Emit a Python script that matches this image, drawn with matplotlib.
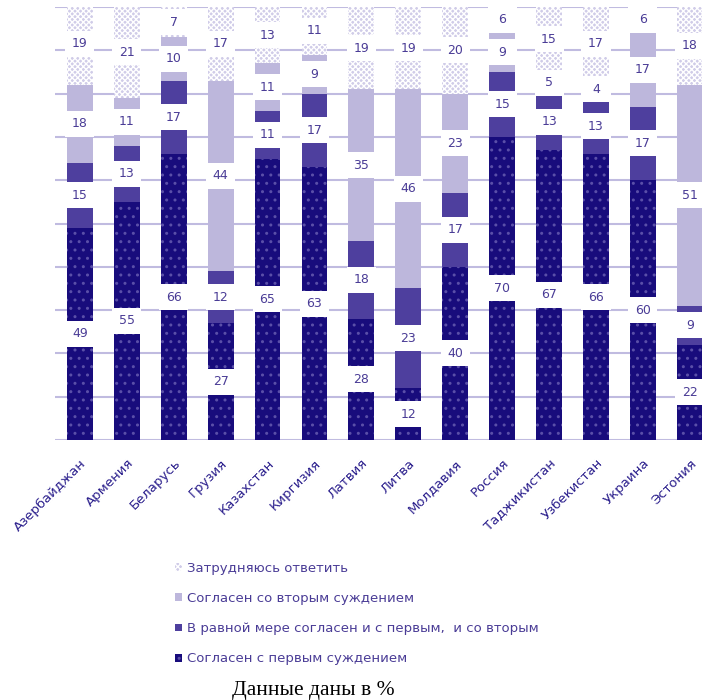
import numpy as np
import matplotlib.pyplot as plt
from matplotlib.patches import Rectangle

# Data
countries = ["Азербайджан", "Армения", "Беларусь", "Грузия", "Казахстан", "Киргизия",
             "Латвия", "Литва", "Молдавия", "Россия", "Таджикистан", "Узбекистан",
             "Украина", "Эстония"]
first = [49, 55, 66, 27, 65, 63, 28, 12, 40, 70, 67, 66, 60, 22]
equal = [15, 13, 17, 12, 11, 17, 18, 23, 17, 15, 13, 13, 17, 9]
second = [18, 11, 10, 44, 11, 9, 35, 46, 23, 9, 5, 4, 17, 51]
hard = [19, 21, 7, 17, 13, 11, 19, 19, 20, 6, 15, 17, 6, 18]
names = ["Согласен с первым суждением",
         "В равной мере согласен и с первым,  и со вторым",
         "Согласен со вторым суждением",
         "Затрудняюсь ответить"]

plt.rcParams['hatch.linewidth'] = 1.0
txtColor = "#4a3c96"
gridColor = "#c0bbe0"

fig = plt.figure(figsize=(7.02, 7.0), dpi=100)
ax = fig.add_axes([55/702, 1-440/700, 1-55/702, 433/700])

x = np.arange(len(countries))
w = 0.55
series = [first, equal, second, hard]
faces = ["#180c7c", "#4e3f9e", "#bdb7dc", "#d0cce8"]
edges = ["#5a4fa8", "#4e3f9e", "#bdb7dc", "white"]
hatches = ["..", None, None, "xxxxxx"]

bottom = np.zeros(len(countries))
handles = []
for vals, fc, ec, h, nm in zip(series, faces, edges, hatches, names):
	vals = np.array(vals, dtype=float)
	b = ax.bar(x, vals, w, bottom=bottom, color=fc, edgecolor=ec, hatch=h,
		linewidth=0, zorder=2, label=nm)
	handles.append(b)
	# White label boxes at segment centers
	for i in range(len(x)):
		yc = bottom[i] + vals[i]/2
		ax.add_patch(Rectangle((x[i]-0.31, yc-3.0), 0.62, 6.0, facecolor="white",
			edgecolor="none", zorder=3))
		ax.text(x[i], yc, str(int(vals[i])), ha="center", va="center", fontsize=9,
			color=txtColor, zorder=4)
	bottom += vals

ax.set_xlim(-0.53, 13.26)
ax.set_ylim(0, 100)
ax.set_yticks(np.arange(0, 101, 10))
ax.set_yticklabels([])
ax.grid(axis="y", color=gridColor, linewidth=1.5, zorder=0)
ax.set_axisbelow(True)
for s in ax.spines.values():
	s.set_visible(False)
ax.tick_params(axis="both", length=0)
ax.set_xticks(x)
ax.set_xticklabels(countries, rotation=45, ha="right", va="top", rotation_mode="anchor",
	fontsize=9.5, color="#2a1e8c")
ax.tick_params(axis="x", pad=12)

# Legend
leg = fig.legend(handles[::-1], names[::-1], loc="upper left",
	bbox_to_anchor=(163/702, 1-550/700), frameon=False, fontsize=9.5,
	labelcolor=txtColor, handlelength=0.55, handleheight=0.55,
	handletextpad=0.35, labelspacing=1.3)

fig.text(313/702, 1-690/700, "Данные даны в %", ha="center", va="center",
	fontsize=15.5, family="Liberation Serif", color="black")

plt.savefig("out.png", dpi=100)
